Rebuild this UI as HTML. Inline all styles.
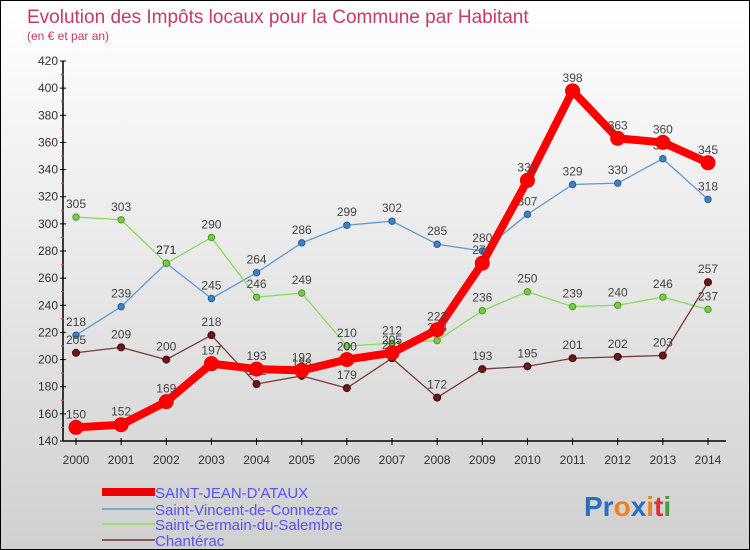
<!DOCTYPE html>
<html><head><meta charset="utf-8"><style>
body{margin:0}
#c{width:748px;height:548px;border:1px solid #000;background:linear-gradient(#fff,#d0d0d0);position:relative;font-family:"Liberation Sans",sans-serif;overflow:hidden}
svg text{font-family:"Liberation Sans",sans-serif}
</style></head><body>
<div id="c">
<svg id="s" width="748" height="548">
<text x="26" y="22" font-size="19" fill="#c8386a">Evolution des Impôts locaux pour la Commune par Habitant</text>
<text x="26" y="39" font-size="12" fill="#c8386a">(en € et par an)</text>
<g id="axes"></g><g id="series"></g>
<g>
<rect x="101" y="487" width="53" height="8" fill="#e00"/>
<text x="154" y="497" font-size="15" fill="#5555ee">SAINT-JEAN-D'ATAUX</text>
<rect x="101" y="507" width="53" height="2" fill="#7aaace"/>
<text x="154" y="514" font-size="15" fill="#5555ee">Saint-Vincent-de-Connezac</text>
<rect x="101" y="522" width="53" height="2" fill="#99dd77"/>
<text x="154" y="529" font-size="15" fill="#5555ee">Saint-Germain-du-Salembre</text>
<rect x="101" y="538" width="53" height="2" fill="#8a5a5a"/>
<text x="154" y="545" font-size="15" fill="#5555ee">Chantérac</text>
</g>
<g font-size="28" font-weight="bold">
<text x="583" y="515"><tspan fill="#2a6fc0">Pr</tspan><tspan fill="#f08020">o</tspan><tspan fill="#2a6fc0">x</tspan><tspan fill="#f08020">i</tspan><tspan fill="#e03030">t</tspan><tspan fill="#40a040">i</tspan></text>
</g>
</svg>
</div>
<script>
const years=[2000,2001,2002,2003,2004,2005,2006,2007,2008,2009,2010,2011,2012,2013,2014];
const yTicks=[140,160,180,200,220,240,260,280,300,320,340,360,380,400,420];
const sjValues=[150,152,169,197,193,192,200,205,222,271,332,398,363,360,345];
const svValues=[218,239,271,245,264,286,299,302,285,280,307,329,330,348,318];
const sgValues=[305,303,271,290,246,249,210,212,214,236,250,239,240,246,237];
const chValues=[205,209,200,218,182,188,179,201,172,193,195,201,202,203,257];
const NS="http://www.w3.org/2000/svg";
const X=i=>75+i*(707-75)/14;
const Y=v=>440-(v-140)*380/280;
function mk(t,a,p){const e=document.createElementNS(NS,t);for(const k in a)e.setAttribute(k,a[k]);p.appendChild(e);return e;}
const ax=document.getElementById('axes');
const yl=mk('line',{x1:62,y1:60,x2:62,y2:440,stroke:'#000','stroke-width':1.5},ax);


const xl=mk('line',{x1:62,y1:440,x2:725,y2:440,stroke:'#000','stroke-width':1.5},ax);


yTicks.forEach((v,i)=>{
 mk('line',{x1:59,y1:Y(v),x2:65,y2:Y(v),stroke:'#000'},ax);
 if(i<yTicks.length-1) mk('line',{x1:60,y1:Y(v+10),x2:63,y2:Y(v+10),stroke:'#e33'},ax);
 const t=mk('text',{x:57,y:Y(v)+4,'font-size':12,fill:'#333','text-anchor':'end'},ax);
 t.textContent=v;
 
 
});
years.forEach((yr,i)=>{
 mk('line',{x1:X(i),y1:437,x2:X(i),y2:444,stroke:'#000'},ax);
 const t=mk('text',{x:X(i),y:463,'font-size':12,fill:'#333','text-anchor':'middle'},ax);
 t.textContent=yr;
 
 
});
const sg=document.getElementById('series');
function series(vals,name,color,w,r,dot,stroke){
 const g=mk('g',{},sg);
 
 
 mk('polyline',{points:vals.map((v,i)=>X(i)+','+Y(v)).join(' '),fill:'none',stroke:color,'stroke-width':w,'stroke-linejoin':'round'},g);
 vals.forEach((v,i)=>{
  const c=mk('circle',{cx:X(i),cy:Y(v),r:r,fill:dot,stroke:stroke,'stroke-width':1},g);
  
  
  const t=mk('text',{x:X(i),y:Y(v)-9,'font-size':12,fill:'#444','text-anchor':'middle'},g);
  t.textContent=v;
  
  
 });
}
series(svValues,'series-saint-vincent','#5b9bd5',1.3,3.2,'#3a84c8','#2a5a90');
series(sgValues,'series-saint-germain','#88dd55',1.3,3.2,'#77cc44','#4a9a2a');
series(chValues,'series-chanterac','#7a3a3a',1.3,3.5,'#6a1a1a','#400');
series(sjValues,'series-saint-jean','#f00',8,7,'#f00','#e00');
</script>
</body></html>
